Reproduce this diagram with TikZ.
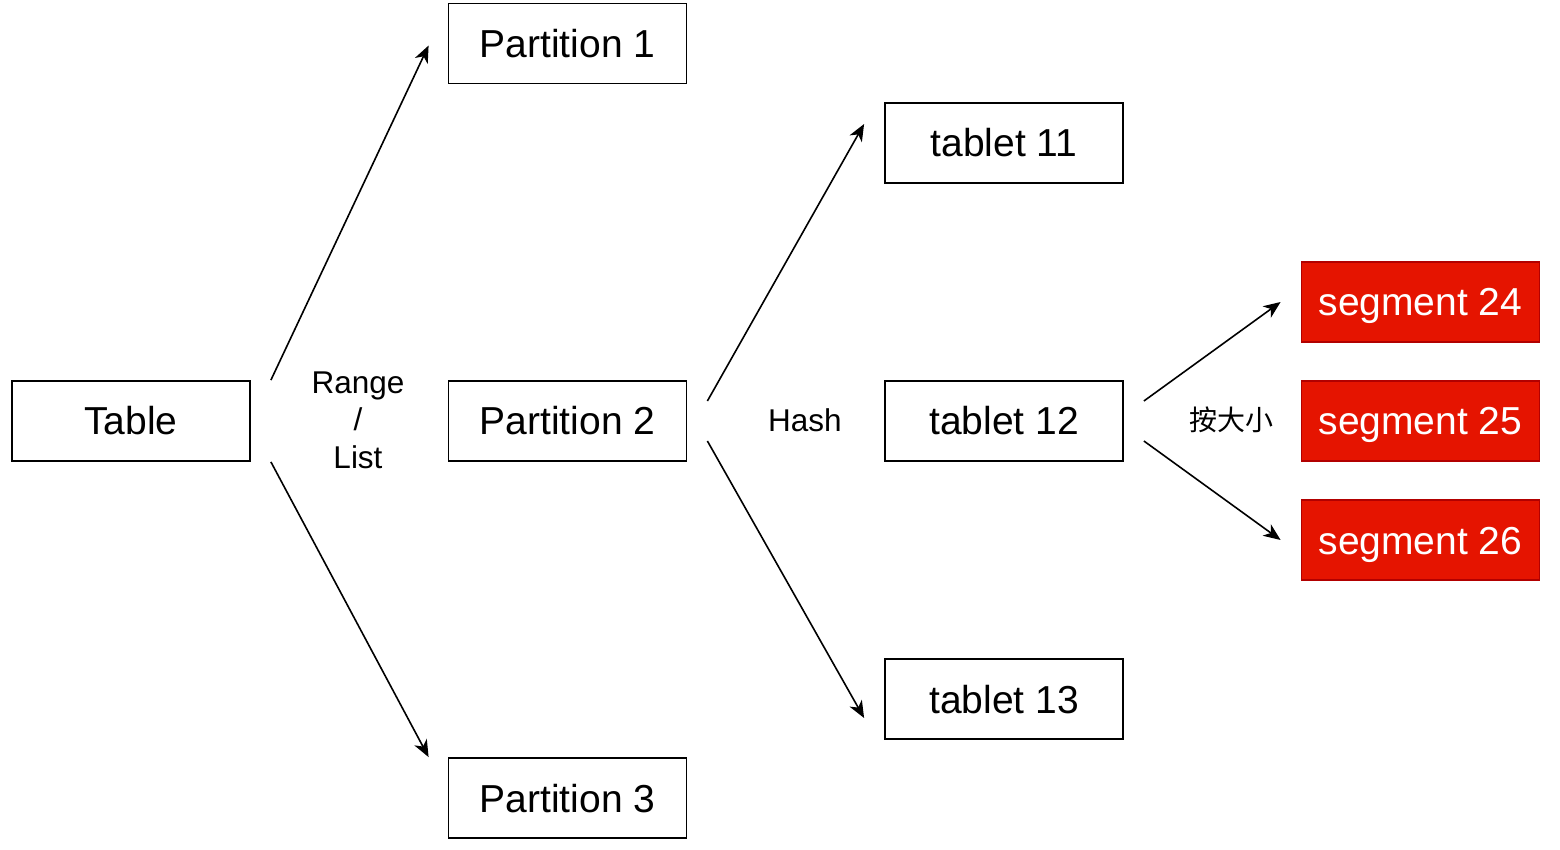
\documentclass[tikz,border=0pt]{standalone}
\usepackage{fontspec}
\setmainfont{Liberation Sans}
\newfontfamily\cjkfont{Noto Sans CJK SC}
\usetikzlibrary{arrows.meta}

\definecolor{segred}{HTML}{E51400}
\definecolor{segline}{HTML}{B20000}

\begin{document}
\begin{tikzpicture}[x=0.5pt,y=-0.5pt,>={Stealth[length=8.5pt,width=7pt,inset=2.5pt]}]
            \tikzstyle{box}=[draw, line width=0.9pt, minimum width=119pt, minimum height=40pt, inner sep=0pt, text height=14pt, text depth=0pt, font=\fontsize{19.5}{23}\selectfont]
            \tikzstyle{segbox}=[box, fill=segred, draw=segline, text=white]
            \tikzstyle{lbl}=[font=\fontsize{15.75}{18.75}\selectfont, align=center]

            \useasboundingbox (0,0) rectangle (1560,850);

            \node[box] (tbl) at (131, 421) {Table};

            \node[box] (p_1) at (567.5, 43.5) {Partition 1};
            \node[box] (p_2) at (567.5, 421) {Partition 2};
            \node[box] (p_3) at (567.5, 798) {Partition 3};

            \node[box] (t_11) at (1004, 143) {tablet 11};
            \node[box] (t_12) at (1004, 421) {tablet 12};
            \node[box] (t_13) at (1004, 699) {tablet 13};

            \node[segbox] (s_24) at (1420.5, 302) {segment 24};
            \node[segbox] (s_25) at (1420.5, 421) {segment 25};
            \node[segbox] (s_26) at (1420.5, 540) {segment 26};

            \node[lbl] (l_range) at (358, 420) {Range\\/\\List};
            \node[lbl] (l_hash) at (805, 420) {Hash};
            \node[lbl, font=\cjkfont\fontsize{14}{18}\selectfont] (l_size) at (1231, 420) {按大小};

            \path[->, line width=0.8pt]
            ([xshift=10pt]tbl.north east) edge ([xshift=-9.5pt,yshift=-1pt]p_1.west)
            ([xshift=10pt]tbl.south east) edge ([xshift=-9.5pt]p_3.north west)

            ([xshift=10pt,yshift=10pt]p_2.east) edge ([xshift=-10pt,yshift=9.5pt]t_11.west)
            ([xshift=10pt,yshift=-10pt]p_2.east) edge ([xshift=-10pt,yshift=-9.5pt]t_13.west)

            ([xshift=10pt,yshift=10pt]t_12.east) edge ([xshift=-10pt]s_24.west)
            ([xshift=10pt,yshift=-10pt]t_12.east) edge ([xshift=-10pt]s_26.west);

          \end{tikzpicture}
\end{document}
